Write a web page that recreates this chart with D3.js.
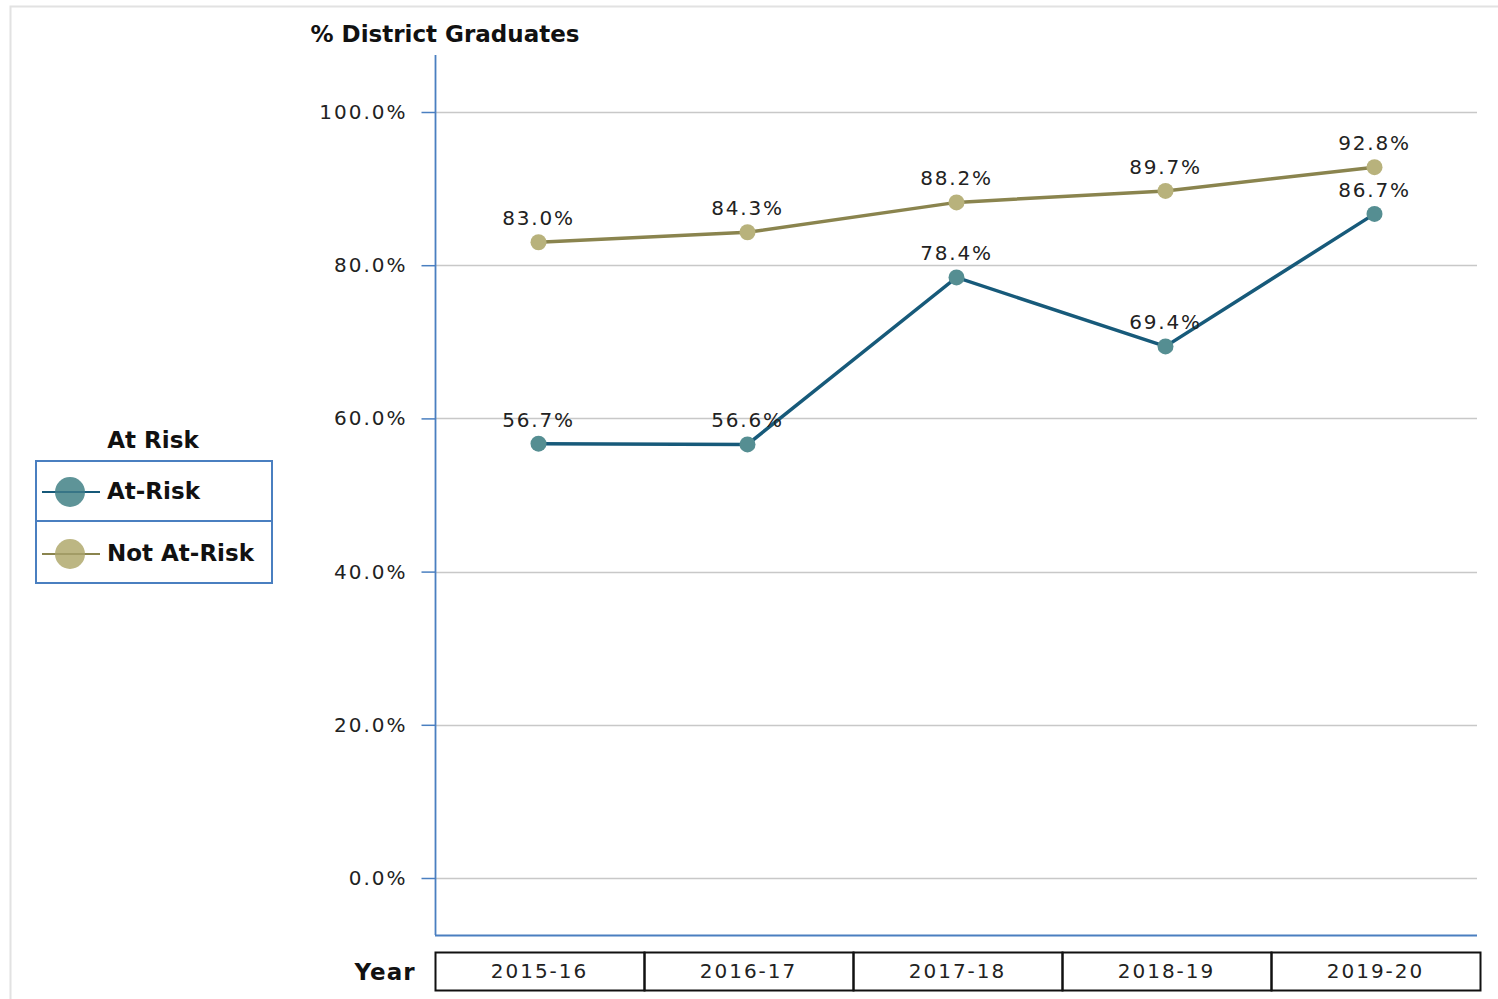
<!DOCTYPE html>
<html>
<head>
<meta charset="utf-8">
<script src="https://cdn.jsdelivr.net/npm/d3@7"></script>
<style>
  body { margin: 0; background: #fff; }
  svg { font-family: "DejaVu Sans", sans-serif; }
</style>
</head>
<body>
<svg id="chart" width="1498" height="999"></svg>
<script>
// data
var years = ["2015-16", "2016-17", "2017-18", "2018-19", "2019-20"];
var atRisk = [56.7, 56.6, 78.4, 69.4, 86.7];
var notAtRisk = [83.0, 84.3, 88.2, 89.7, 92.8];
var yTicks = [0, 20, 40, 60, 80, 100];
var seriesNames = ["At-Risk", "Not At-Risk"];
var lineColors = ["#175a7a", "#8a844e"];
var dotColors = ["#558e92", "#b8b27c"];

var svg = d3.select("#chart");

// outer frame
svg.append("rect")
    .attr("x", 10.5).attr("y", 6.5)
    .attr("width", 1500).attr("height", 1000)
    .attr("fill", "none").attr("stroke", "#e2e2e2").attr("stroke-width", 2);

var plotLeft = 435, plotRight = 1477, plotTop = 55, plotBottom = 935;

var x = d3.scaleBand()
    .domain(years)
    .range([plotLeft, 1480]);

var y = d3.scaleLinear()
    .domain([0, 100])
    .range([878, 112]);

// gridlines
svg.append("g")
  .selectAll("line")
  .data(yTicks)
  .enter().append("line")
    .attr("x1", plotLeft).attr("x2", plotRight)
    .attr("y1", function(d) { return Math.round(y(d)) + 0.5; })
    .attr("y2", function(d) { return Math.round(y(d)) + 0.5; })
    .attr("stroke", "#c8c8c8").attr("stroke-width", 1.5);

// y axis
var yAxis = svg.append("g")
    .attr("transform", "translate(" + (plotLeft + 0.5) + ",0)")
    .call(d3.axisLeft(y).tickValues(yTicks).tickSize(14).tickPadding(14)
      .tickFormat(function(d) { return d3.format(".1f")(d) + "%"; }));
yAxis.select(".domain").remove();
yAxis.selectAll(".tick line").attr("stroke", "#4a7fc0").attr("stroke-width", 1.5);
yAxis.selectAll(".tick text")
    .attr("font-size", 20).attr("fill", "#222")
    .attr("font-family", "DejaVu Sans, sans-serif")
    .attr("letter-spacing", 2);

svg.append("line")
    .attr("x1", plotLeft + 0.5).attr("x2", plotLeft + 0.5)
    .attr("y1", plotTop).attr("y2", plotBottom)
    .attr("stroke", "#4a7fc0").attr("stroke-width", 1.8);
svg.append("line")
    .attr("x1", plotLeft).attr("x2", plotRight)
    .attr("y1", plotBottom + 0.5).attr("y2", plotBottom + 0.5)
    .attr("stroke", "#4a7fc0").attr("stroke-width", 1.8);

// title
svg.append("text")
    .attr("x", 445).attr("y", 42)
    .attr("text-anchor", "middle")
    .attr("font-size", 23).attr("font-weight", "bold")
    .attr("fill", "#111")
    .text("% District Graduates");

// year table
var cells = svg.append("g").selectAll("g")
    .data(years)
    .enter().append("g");
cells.append("rect")
    .attr("x", function(d) { return x(d) + 0.5; })
    .attr("y", 952.5)
    .attr("width", x.bandwidth())
    .attr("height", 38)
    .attr("fill", "none").attr("stroke", "#111").attr("stroke-width", 2);
cells.append("text")
    .attr("x", function(d) { return x(d) + x.bandwidth() / 2; })
    .attr("y", 978)
    .attr("text-anchor", "middle")
    .attr("font-size", 20).attr("fill", "#222")
    .attr("letter-spacing", 2)
    .text(function(d) { return d; });
svg.append("text")
    .attr("x", 385).attr("y", 980)
    .attr("text-anchor", "middle")
    .attr("font-size", 23).attr("font-weight", "bold")
    .attr("letter-spacing", 1)
    .attr("fill", "#111")
    .text("Year");

// lines
var series = [atRisk, notAtRisk];
var line = d3.line()
    .x(function(d, i) { return x(years[i]) + x.bandwidth() / 2 - 1; })
    .y(function(d) { return y(d); });

series.forEach(function(s, k) {
  svg.append("path")
      .datum(s)
      .attr("d", line)
      .attr("fill", "none")
      .attr("stroke", lineColors[k])
      .attr("stroke-width", 3.5);

  svg.append("g").selectAll("circle")
      .data(s)
      .enter().append("circle")
        .attr("cx", function(d, i) { return x(years[i]) + x.bandwidth() / 2 - 1; })
        .attr("cy", function(d) { return y(d); })
        .attr("r", 8)
        .attr("fill", dotColors[k]);

  svg.append("g").selectAll("text")
      .data(s)
      .enter().append("text")
        .attr("x", function(d, i) { return x(years[i]) + x.bandwidth() / 2 - 1; })
        .attr("y", function(d) { return y(d) - 17; })
        .attr("text-anchor", "middle")
        .attr("font-size", 20).attr("fill", "#222")
        .attr("letter-spacing", 1.8)
        .text(function(d) { return d3.format(".1f")(d) + "%"; });
});

// legend
svg.append("text")
    .attr("x", 153).attr("y", 448)
    .attr("text-anchor", "middle")
    .attr("font-size", 23).attr("font-weight", "bold")
    .attr("fill", "#111")
    .text("At Risk");

svg.append("rect")
    .attr("x", 36).attr("y", 461)
    .attr("width", 236).attr("height", 122)
    .attr("fill", "none").attr("stroke", "#4a7fc0").attr("stroke-width", 2);
svg.append("line")
    .attr("x1", 36).attr("x2", 272)
    .attr("y1", 521).attr("y2", 521)
    .attr("stroke", "#4a7fc0").attr("stroke-width", 2);

var leg = svg.append("g").selectAll("g")
    .data(seriesNames)
    .enter().append("g")
      .attr("transform", function(d, i) { return "translate(0," + (492 + i * 62) + ")"; });
leg.append("line")
    .attr("x1", 42).attr("x2", 100)
    .attr("stroke", function(d, i) { return lineColors[i]; })
    .attr("stroke-width", 2);
leg.append("circle")
    .attr("cx", 70).attr("r", 15)
    .attr("fill", function(d, i) { return dotColors[i]; })
    .attr("fill-opacity", 0.95);
leg.append("line")
    .attr("x1", 42).attr("x2", 100)
    .attr("stroke", function(d, i) { return lineColors[i]; })
    .attr("stroke-width", 1.5).attr("stroke-opacity", 0.6);
leg.append("text")
    .attr("x", 107).attr("y", 7)
    .attr("font-size", 23).attr("font-weight", "bold")
    .attr("fill", "#111")
    .text(function(d) { return d; });
</script>
</body>
</html>
